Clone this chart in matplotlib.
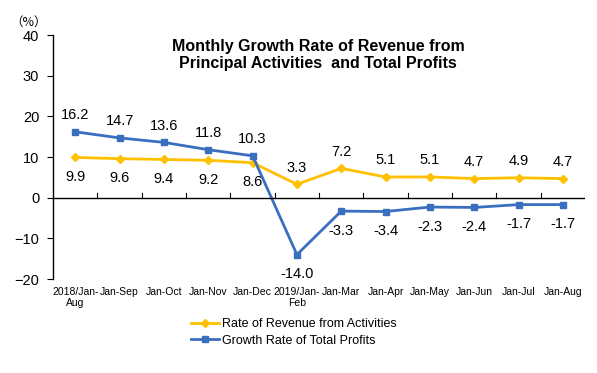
import matplotlib.pyplot as plt

plt.rcParams['font.family'] = ['Liberation Sans', 'DejaVu Sans']

# Chart data
categories = ["2018/Jan-\nAug", "Jan-Sep", "Jan-Oct", "Jan-Nov", "Jan-Dec", "2019/Jan-\nFeb",
              "Jan-Mar", "Jan-Apr", "Jan-May", "Jan-Jun", "Jan-Jul", "Jan-Aug"]
revenue = [9.9, 9.6, 9.4, 9.2, 8.6, 3.3, 7.2, 5.1, 5.1, 4.7, 4.9, 4.7]
profits = [16.2, 14.7, 13.6, 11.8, 10.3, -14.0, -3.3, -3.4, -2.3, -2.4, -1.7, -1.7]
y_ticks = [-20, -10, 0, 10, 20, 30, 40]

yellow = "#FFC000"
blue = "#3A6FBF"

fig = plt.figure(figsize=(5.97, 3.73), dpi=100)
ax = fig.add_axes([0.089, 0.252, 0.891, 0.654])

x = list(range(len(categories)))
ax.plot(x, revenue, color=yellow, lw=2, marker="D", ms=4.5, label="Rate of Revenue from Activities")
ax.plot(x, profits, color=blue, lw=2, marker="s", ms=4.5, label="Growth Rate of Total Profits")

# data labels
for i, v in enumerate(revenue):
    if i < 5:
        ax.annotate(f"{v:.1f}", (i, v), xytext=(0, -9), textcoords="offset points",
                    ha="center", va="top", fontsize=10.5)
    else:
        ax.annotate(f"{v:.1f}", (i, v), xytext=(0, 7), textcoords="offset points",
                    ha="center", va="bottom", fontsize=10.5)
for i, v in enumerate(profits):
    if v > 0:
        ax.annotate(f"{v:.1f}", (i, v), xytext=(0, 7), textcoords="offset points",
                    ha="center", va="bottom", fontsize=10.5)
    else:
        ax.annotate(f"{v:.1f}", (i, v), xytext=(0, -9), textcoords="offset points",
                    ha="center", va="top", fontsize=10.5)

ax.set_xlim(-0.5, len(categories) - 0.5)
ax.set_ylim(-20, 40)
ax.set_yticks(y_ticks)
ax.tick_params(axis="y", labelsize=10.5, length=4, direction="out", pad=6)

ax.spines["top"].set_visible(False)
ax.spines["right"].set_visible(False)
ax.spines["bottom"].set_visible(False)
ax.spines["left"].set_linewidth(1)

# zero line with category ticks
ax.axhline(0, color="black", lw=1)
for k in range(1, len(categories) + 1):
    ax.plot([k - 0.5, k - 0.5], [0, 1.2], color="black", lw=0.8)

ax.set_xticks(x)
ax.set_xticklabels(categories, fontsize=7.5, linespacing=1.1)
ax.tick_params(axis="x", length=0, pad=6)

fig.text(0.048, 0.94, "（%）", fontsize=9, ha="center", va="center",
         family=["Noto Sans CJK SC", "DejaVu Sans"])

fig.text(0.533, 0.852, "Monthly Growth Rate of Revenue from\nPrincipal Activities  and Total Profits",
         fontsize=11.5, fontweight="bold", ha="center", va="center", linespacing=1.2)

ax.legend(loc="upper left", bbox_to_anchor=(0.25, -0.14), frameon=False, fontsize=9,
          handlelength=2.2, handletextpad=0.3, labelspacing=0.35, borderaxespad=0)

fig.savefig("out.png", dpi=100)
